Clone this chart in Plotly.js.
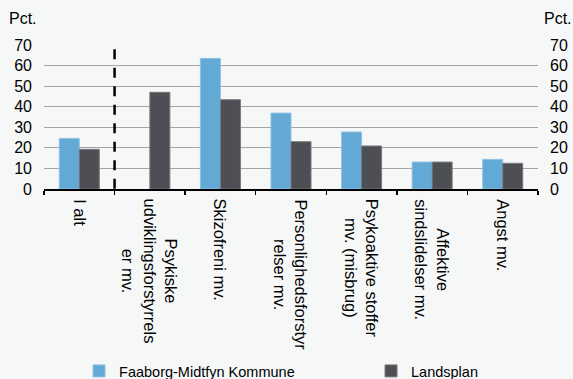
<!DOCTYPE html>
<html>
<head>
<meta charset="utf-8">
<script src="https://cdn.plot.ly/plotly-3.0.1.min.js"></script>
<style>html,body{margin:0;padding:0;background:#f6f8f8;}</style>
</head>
<body>
<div id="chart" style="width:573px;height:379px;"></div>
<script>
const categories = ["I alt", "Psykiske udviklingsforstyrrelser mv.", "Skizofreni mv.", "Personlighedsforstyrrelser mv.", "Psykoaktive stoffer mv. (misbrug)", "Affektive sindslidelser mv.", "Angst mv."];
const categoryLabels = ["I alt", "Psykiske<br>udviklingsforstyrrels<br>er mv.", "Skizofreni mv.", "Personlighedsforstyr<br>relser mv.", "Psykoaktive stoffer<br>mv. (misbrug)", "Affektive<br>sindslidelser mv.", "Angst mv."];
const seriesNames = ["Faaborg-Midtfyn Kommune", "Landsplan"];
const faaborgValues = [24.6, null, 63.5, 36.9, 27.7, 13.1, 14.4];
const landsplanValues = [19.3, 47.0, 43.4, 23.0, 20.9, 13.1, 12.5];
const yTicks = [0, 10, 20, 30, 40, 50, 60, 70];
const unitLabel = "Pct.";

const FONT = "Liberation Sans, Arial, sans-serif";
const BG = "#f6f8f8";

const traces = [
  {type: "bar", name: seriesNames[0], x: categories, y: faaborgValues, legend: "legend",
   marker: {color: "#63a9d5", line: {color: "#8fc1e2", width: 1}}, hoverinfo: "skip"},
  {type: "bar", name: seriesNames[1], x: categories, y: landsplanValues, legend: "legend2",
   marker: {color: "#4e4f54", line: {color: "#77787c", width: 1}}, hoverinfo: "skip"},
  {type: "scatter", x: [], y: [], yaxis: "y2", showlegend: false, hoverinfo: "skip"}
];

const annotations = categories.map((c, i) => ({
  x: c, xref: "x", y: -0.055, yref: "paper", yanchor: "top", xanchor: "center",
  text: categoryLabels[i], textangle: 90, showarrow: false, align: "center",
  font: {family: FONT, size: 16.5, color: "#000"}
}));
annotations.push({xref: "paper", x: -0.0425, xanchor: "center", yref: "paper", y: 1.184, yanchor: "middle",
  text: unitLabel, showarrow: false, font: {family: FONT, size: 16, color: "#000"}});
annotations.push({xref: "paper", x: 1.0405, xanchor: "center", yref: "paper", y: 1.184, yanchor: "middle",
  text: unitLabel, showarrow: false, font: {family: FONT, size: 16, color: "#000"}});

const legendBase = {orientation: "h", xanchor: "left", yref: "container", y: 0.0211, yanchor: "middle",
  font: {family: FONT, size: 14.5, color: "#000"}, bgcolor: "rgba(0,0,0,0)", borderwidth: 0};

const layout = {
  width: 573, height: 379,
  margin: {l: 44, r: 35, t: 45, b: 190},
  paper_bgcolor: BG, plot_bgcolor: BG,
  font: {family: FONT, size: 16, color: "#000"},
  barmode: "group", bargap: 0.433, bargroupgap: 0,
  showlegend: true,
  legend: Object.assign({}, legendBase, {x: 0.0709}),
  legend2: Object.assign({}, legendBase, {x: 0.662}),
  xaxis: {type: "category", categoryarray: categories, showticklabels: false,
    showline: true, linecolor: "#000", linewidth: 1.5,
    ticks: "outside", tickson: "boundaries", ticklen: 4, tickwidth: 1.5, tickcolor: "#000",
    showgrid: false, zeroline: false, fixedrange: true},
  yaxis: {range: [0, 70], tickvals: yTicks, ticktext: yTicks.map(String),
    showgrid: true, gridcolor: "#a6a6a6", gridwidth: 1, zeroline: false,
    showline: false, ticks: "", ticklabelstandoff: 11,
    tickfont: {family: FONT, size: 16, color: "#000"}, fixedrange: true},
  yaxis2: {range: [0, 70], tickvals: yTicks, ticktext: yTicks.map(String), overlaying: "y", side: "right",
    showgrid: false, zeroline: false, showline: false, ticks: "", ticklabelstandoff: 11,
    tickfont: {family: FONT, size: 16, color: "#000"}, fixedrange: true},
  shapes: [{type: "line", xref: "x", yref: "y", x0: 0.5, x1: 0.5, y0: 67.9, y1: -1.8,
    line: {color: "#000", width: 2.5, dash: "10px,8.5px"}}],
  annotations: annotations
};

Plotly.newPlot("chart", traces, layout, {displayModeBar: false, staticPlot: true});
</script>
</body>
</html>
